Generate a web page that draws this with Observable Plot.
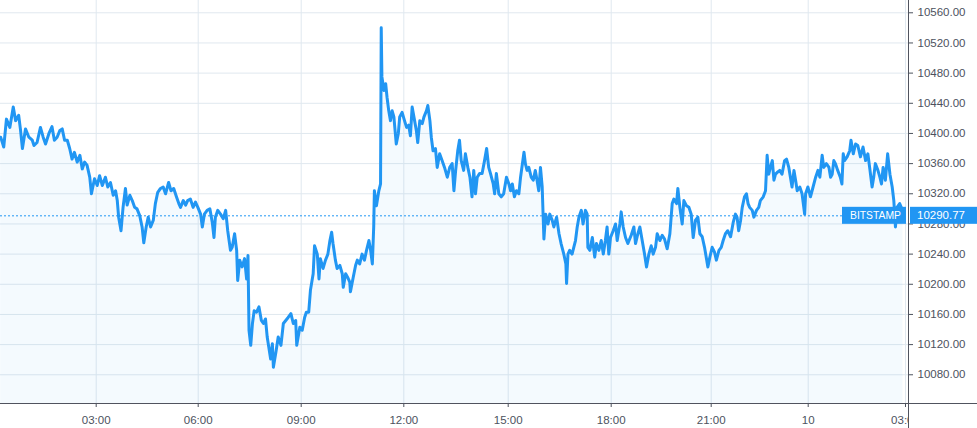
<!DOCTYPE html>
<html><head><meta charset="utf-8">
<script src="https://cdn.jsdelivr.net/npm/d3@7"></script>
<script src="https://cdn.jsdelivr.net/npm/@observablehq/plot@0.6"></script>
<style>
html,body{margin:0;padding:0;background:#fff;}
#chart{width:977px;height:428px;overflow:hidden;}
</style></head><body><div id="chart"></div>
<script>
// time in hours since 00:00 (day 9); price in USD
const times = [
0.19,0.28,0.36,0.46,0.56,0.63,0.72,0.77,0.83,0.92,1.02,1.12,1.17,1.26,1.36,1.44,1.51,1.61,1.70,1.77,1.85,1.93,2.00,2.07,2.15,2.22,2.29,2.36,2.44,2.52,2.59,2.66,2.73,2.81,2.86,2.95,
3.03,3.10,3.18,3.27,3.34,3.42,3.50,3.57,3.62,3.66,3.73,3.79,3.86,3.91,3.99,4.06,4.13,4.20,4.28,4.35,4.40,4.47,4.53,4.60,4.68,4.74,4.81,4.89,4.97,5.04,5.13,5.20,5.28,5.36,5.43,5.48,5.56,5.63,5.69,5.77,5.85,5.92,5.99,
6.07,6.12,6.18,6.26,6.34,6.41,6.46,6.50,6.57,6.65,6.73,6.80,6.86,6.94,6.99,7.06,7.12,7.15,7.21,7.28,7.35,7.41,7.45,7.48,7.53,7.58,7.63,7.70,7.77,7.84,7.90,7.96,8.01,8.11,8.16,8.19,8.27,8.33,8.41,8.48,8.55,8.62,8.70,8.77,8.84,8.87,8.96,
9.03,9.10,9.15,9.22,9.27,9.35,9.39,9.47,9.52,9.56,9.64,9.71,9.78,9.84,9.89,9.93,10.00,10.05,10.13,10.20,10.23,10.30,10.36,10.42,10.44,10.52,10.59,10.64,10.71,10.78,10.85,10.91,10.98,11.03,11.08,11.12,11.14,11.20,11.27,11.32,11.34,11.36,11.42,11.47,11.51,11.56,11.61,11.66,11.71,11.78,11.84,11.88,11.95,
12.02,12.08,12.14,12.19,12.24,12.31,12.36,12.40,12.46,12.53,12.58,12.65,12.69,12.75,12.79,12.84,12.91,12.96,13.03,13.10,13.17,13.25,13.32,13.39,13.44,13.49,13.55,13.60,13.65,13.72,13.77,13.84,13.90,13.96,14.01,14.06,14.11,14.18,14.25,14.32,14.38,14.44,14.49,14.57,14.61,14.66,14.73,14.80,14.87,14.95,
15.02,15.07,15.12,15.18,15.24,15.31,15.36,15.46,15.50,15.55,15.60,15.67,15.73,15.79,15.84,15.89,15.94,15.99,16.04,16.09,16.16,16.21,16.28,16.33,16.41,16.48,16.54,16.62,16.68,16.70,16.74,16.79,16.86,16.91,16.96,17.01,17.06,17.13,17.18,17.25,17.30,17.32,17.38,17.45,17.52,17.57,17.64,17.71,17.77,17.83,17.88,17.93,17.98,
18.06,18.13,18.18,18.26,18.30,18.36,18.43,18.50,18.60,18.68,18.73,18.80,18.86,18.93,19.00,19.06,19.13,19.20,19.26,19.33,19.38,19.46,19.53,19.60,19.68,19.76,19.83,19.88,19.96,20.00,20.06,20.13,20.18,20.26,20.33,20.40,20.46,20.53,20.60,20.66,20.73,20.80,20.90,20.96,
21.03,21.10,21.16,21.24,21.31,21.37,21.44,21.51,21.60,21.68,21.75,21.80,21.85,21.91,21.96,22.03,22.09,22.14,22.19,22.27,22.32,22.40,22.47,22.52,22.61,22.68,22.73,22.78,22.83,22.89,22.94,22.99,23.06,23.12,23.19,23.27,23.33,23.40,23.45,23.50,23.56,23.61,23.66,23.74,23.81,23.89,23.92,23.99,
24.07,24.15,24.23,24.30,24.36,24.43,24.48,24.56,24.64,24.69,24.74,24.79,24.84,24.91,24.99,25.04,25.08,25.12,25.20,25.28,25.32,25.39,25.46,25.53,25.61,25.69,25.77,25.84,25.90,25.97,26.02,26.07,26.15,26.21,26.26,26.31,26.38,26.45,26.52,26.59,26.64,26.69,26.74,26.82,26.89,26.92
];
const prices = [
10395,10382,10419,10408,10435,10417,10424,10406,10380,10406,10395,10391,10384,10388,10408,10395,10386,10400,10409,10391,10395,10404,10406,10391,10391,10380,10366,10375,10362,10371,10353,10362,10358,10342,10320,10340,
10331,10344,10331,10342,10329,10335,10318,10324,10311,10289,10271,10302,10327,10305,10318,10311,10302,10300,10291,10276,10255,10276,10289,10276,10285,10307,10322,10327,10329,10320,10335,10324,10327,10316,10307,10302,10311,10305,10311,10313,10302,10309,10302,
10293,10276,10293,10298,10300,10282,10262,10289,10298,10293,10287,10298,10271,10245,10249,10267,10245,10205,10232,10223,10234,10207,10238,10139,10119,10148,10165,10163,10170,10152,10148,10154,10130,10101,10121,10090,10112,10130,10119,10148,10152,10156,10161,10148,10152,10119,10143,
10139,10156,10163,10163,10192,10214,10251,10240,10207,10234,10221,10232,10240,10258,10269,10254,10232,10221,10225,10214,10196,10214,10209,10203,10190,10209,10225,10232,10227,10240,10232,10245,10258,10245,10227,10276,10324,10304,10324,10333,10540,10475,10457,10466,10448,10430,10417,10430,10422,10386,10400,10422,10428,
10417,10408,10411,10397,10435,10417,10404,10388,10417,10413,10422,10430,10437,10417,10395,10377,10380,10355,10373,10364,10355,10342,10355,10360,10324,10351,10377,10391,10364,10351,10373,10355,10342,10316,10351,10320,10342,10347,10347,10364,10380,10355,10347,10333,10320,10347,10320,10316,10320,10342,
10333,10324,10333,10316,10324,10320,10342,10375,10360,10351,10355,10342,10338,10351,10338,10324,10355,10329,10260,10293,10280,10293,10285,10276,10289,10267,10254,10240,10227,10201,10240,10245,10240,10249,10258,10276,10289,10298,10280,10298,10293,10249,10245,10262,10236,10254,10245,10258,10240,10258,10276,10240,10262,
10271,10280,10258,10280,10296,10276,10262,10254,10265,10276,10254,10267,10276,10258,10240,10223,10240,10251,10240,10249,10267,10258,10265,10260,10247,10267,10307,10313,10307,10327,10302,10280,10311,10304,10302,10293,10262,10285,10289,10267,10263,10249,10223,10236,
10249,10243,10232,10245,10249,10258,10267,10271,10263,10282,10293,10289,10271,10285,10302,10316,10320,10307,10302,10298,10289,10298,10302,10311,10316,10324,10371,10346,10355,10364,10338,10346,10349,10351,10346,10364,10366,10355,10342,10329,10351,10338,10324,10329,10320,10293,10320,10329,
10316,10329,10342,10351,10342,10371,10355,10360,10355,10342,10346,10364,10360,10351,10342,10333,10373,10364,10369,10377,10391,10373,10386,10384,10369,10382,10364,10373,10353,10329,10342,10360,10351,10342,10333,10355,10338,10373,10346,10329,10311,10276,10302,10307,10300,10290.77
];
const xTicks = [3, 6, 9, 12, 15, 18, 21, 24, 27];
const xTickLabels = ["03:00", "06:00", "09:00", "12:00", "15:00", "18:00", "21:00", "10", "03:00"];
const yTicks = [10080, 10120, 10160, 10200, 10240, 10280, 10320, 10360, 10400, 10440, 10480, 10520, 10560];
const lastPrice = 10290.77;
const exchange = "BITSTAMP";

const data = times.map((t, i) => ({t, p: prices[i]}));
const yMin = 10041.9, yMax = 10576.3;
const blue = "#2196f3";
const grid = "#e0e8ef";
const axisCol = "#50535e";
const font = "'Liberation Sans', Arial, sans-serif";

const plot = Plot.plot({
  width: 977, height: 428,
  marginLeft: 0, marginRight: 69, marginTop: 0, marginBottom: 25,
  style: {fontFamily: font, fontSize: "11.5px", color: "#4c525e", background: "#fff", overflow: "hidden"},
  x: {type: "linear", label: null, domain: [0.185, 3, 6, 9, 12, 15, 18, 21, 24, 27, 27.09],
      range: [0, 95.7, 197.7, 300.7, 403.3, 507.7, 610.7, 710.7, 807.7, 905, 908]},
  y: {label: null, domain: [yMin, yMax], range: [403, 0]},
  marks: [
    Plot.gridY({ticks: yTicks, stroke: grid, strokeOpacity: 1}),
    Plot.gridX({ticks: xTicks, stroke: grid, strokeOpacity: 1}),
    Plot.areaY(data, {x: "t", y1: yMin, y2: "p", fill: blue, fillOpacity: 0.05}),
    Plot.ruleY([lastPrice], {stroke: blue, strokeDasharray: "2,2", strokeWidth: 1}),
    Plot.line(data, {x: "t", y: "p", stroke: blue, strokeWidth: 3, strokeLinejoin: "round"}),
    Plot.axisX({ticks: xTicks, label: null, tickFormat: d => xTickLabels[xTicks.indexOf(d)], tickSize: 4, tickPadding: 8}),
    Plot.axisY({ticks: yTicks, label: null, anchor: "right", tickFormat: d => d.toFixed(2), tickSize: 4, tickPadding: 5})
  ]
});

document.getElementById("chart").appendChild(plot);

const svg = d3.select(plot);
const defs = svg.insert("defs", ":first-child");
defs.append("clipPath").attr("id", "xclip")
  .append("rect").attr("x", 0).attr("y", 0).attr("width", 908).attr("height", 428);
svg.selectAll('g[aria-label="x-axis tick label"]').attr("clip-path", "url(#xclip)");

// axis lines
svg.append("line").attr("x1", 0).attr("x2", 977).attr("y1", 403.5).attr("y2", 403.5)
  .attr("stroke", axisCol).attr("stroke-width", 1);
svg.append("line").attr("x1", 908.5).attr("x2", 908.5).attr("y1", 0).attr("y2", 428)
  .attr("stroke", axisCol).attr("stroke-width", 1);

// last-price labels
const yl = plot.scale("y").apply(lastPrice);
const g = svg.append("g").attr("font-family", font).attr("text-anchor", "start");
g.append("rect").attr("x", 842).attr("y", yl - 8.5).attr("width", 64).attr("height", 17).attr("fill", blue);
g.append("text").attr("x", 850).attr("y", yl).attr("dy", "0.35em").attr("fill", "#fff").attr("text-anchor", "start")
  .attr("font-size", "11.5px").attr("textLength", 51).attr("lengthAdjust", "spacingAndGlyphs").text(exchange);
g.append("rect").attr("x", 910).attr("y", yl - 8.5).attr("width", 67).attr("height", 17).attr("fill", blue);
g.append("text").attr("x", 917).attr("y", yl).attr("dy", "0.35em").attr("fill", "#fff").attr("text-anchor", "start")
  .attr("font-size", "11.5px").text(lastPrice.toFixed(2));
</script>
</body></html>
